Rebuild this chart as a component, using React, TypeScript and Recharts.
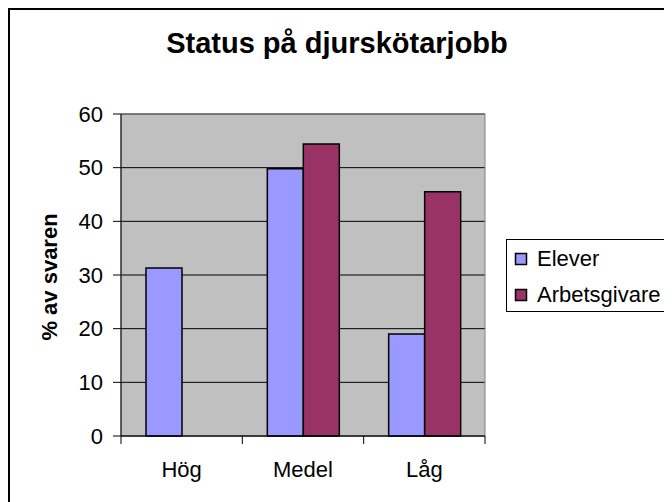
import React from 'react';
import { BarChart, Bar, XAxis, YAxis, CartesianGrid, Legend, ReferenceArea, Label } from 'recharts';

const categories = ['Hög', 'Medel', 'Låg'];
const elever = [31.3, 49.8, 19.0];
const arbetsgivare = [0, 54.4, 45.5];
const yTicks = [0, 10, 20, 30, 40, 50, 60];
const seriesNames = ['Elever', 'Arbetsgivare'];
const seriesColors = ['#9999FF', '#993366'];

const data = categories.map((name, i) => ({ name, elever: elever[i], arbetsgivare: arbetsgivare[i] }));

const FONT = '"Liberation Sans", Arial, sans-serif';
const CHART_W = 700;
const CHART_H = 520;
const PLOT_LEFT = 113;
const PLOT_TOP = 106;
const PLOT_RIGHT = 477;
const PLOT_BOTTOM = 428;
const PLOT_W = PLOT_RIGHT - PLOT_LEFT;
const HALF_BAND = PLOT_W / categories.length / 2;
const LEGEND_W = 200;
const LEGEND_H = 74;

const CategoryTick = (props: any) => {
  const { x, y, payload, index } = props;
  return (
    <g>
      <line x1={x - HALF_BAND} x2={x - HALF_BAND} y1={y} y2={y + 8} stroke="#000" />
      {index === categories.length - 1 && (
        <line x1={x + HALF_BAND} x2={x + HALF_BAND} y1={y} y2={y + 8} stroke="#000" />
      )}
      <text x={x} y={y + 41} textAnchor="middle" fontFamily={FONT} fontSize={22} fill="#000">
        {payload.value}
      </text>
    </g>
  );
};

const LegendBox = () => (
  <svg width={LEGEND_W} height={LEGEND_H} style={{ display: 'block' }}>
    <rect x={0.5} y={0.5} width={LEGEND_W - 1} height={72} fill="#fff" stroke="#000" />
    {seriesNames.map((n, i) => (
      <g key={n}>
        <rect x={9.5} y={14.5 + i * 36} width={11} height={11} fill={seriesColors[i]} stroke="#000" strokeWidth={1.5} />
        <text x={31} y={26.5 + i * 36} fontFamily={FONT} fontSize={22} fill="#000">{n}</text>
      </g>
    ))}
  </svg>
);

export default function App() {
  return (
    <div style={{ position: 'relative', width: CHART_W, height: CHART_H, fontFamily: FONT }}>
      <div style={{ position: 'absolute', left: 0, top: 0, width: CHART_W, height: CHART_H, borderLeft: '2px solid #000', borderTop: '2px solid #000', boxSizing: 'border-box' }} />
      <svg width={CHART_W} height={80} style={{ position: 'absolute', left: 0, top: 0, pointerEvents: 'none' }}>
        <text x={329} y={45} textAnchor="middle" fontFamily={FONT} fontWeight="bold" fontSize={29} fill="#000">
          Status på djurskötarjobb
        </text>
      </svg>
      <div style={{ position: 'absolute', left: 0, top: 0 }}>
        <BarChart
          width={CHART_W}
          height={CHART_H}
          data={data}
          margin={{ top: PLOT_TOP, right: CHART_W - PLOT_RIGHT - LEGEND_W, bottom: CHART_H - PLOT_BOTTOM - 60, left: 0 }}
          barCategoryGap="20.6%"
          barGap={0}
        >
          <CartesianGrid vertical={false} stroke="#000" fill="#C0C0C0" fillOpacity={1} />
          <ReferenceArea y1={0} y2={60} fill="none" stroke="#808080" strokeWidth={1} />
          <XAxis
            dataKey="name"
            height={60}
            axisLine={{ stroke: '#000' }}
            tickLine={false}
            tickSize={0}
            tickMargin={0}
            tick={<CategoryTick />}
            interval={0}
          />
          <YAxis
            width={PLOT_LEFT}
            domain={[0, 60]}
            ticks={yTicks}
            axisLine={{ stroke: '#000' }}
            tickLine={{ stroke: '#000' }}
            tickSize={8}
            tickMargin={10}
            tick={{ fontFamily: FONT, fontSize: 22, fill: '#000' }}
          >
            <Label
              content={() => (
                <text
                  x={48.7}
                  y={269}
                  transform="rotate(-90 48.7 269)"
                  textAnchor="middle"
                  fontFamily={FONT}
                  fontWeight="bold"
                  fontSize={22}
                  fill="#000"
                >
                  % av svaren
                </text>
              )}
            />
          </YAxis>
          <Legend
            layout="vertical"
            align="right"
            verticalAlign="middle"
            content={() => <LegendBox />}
            wrapperStyle={{ position: 'absolute', left: 498, top: 231, width: LEGEND_W, height: LEGEND_H }}
          />
          <Bar dataKey="elever" name={seriesNames[0]} fill={seriesColors[0]} stroke="#000" strokeWidth={1.5} isAnimationActive={false} />
          <Bar dataKey="arbetsgivare" name={seriesNames[1]} fill={seriesColors[1]} stroke="#000" strokeWidth={1.5} isAnimationActive={false} />
        </BarChart>
      </div>
    </div>
  );
}
